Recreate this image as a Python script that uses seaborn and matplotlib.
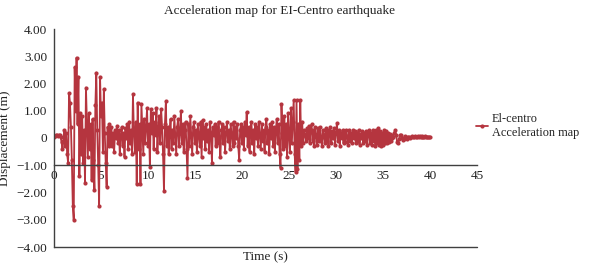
import numpy as np
import pandas as pd
import matplotlib
matplotlib.use("Agg")
import matplotlib.pyplot as plt
import seaborn as sns

# ---- data (acceleration record, 0.1 s sampling) ----
sample_step_s = 0.1
accel_00_05 = [0.05, 0.08, 0.10, 0.10, 0.08, 0.10, 0.12, 0.05, -0.15, -0.40,
               -0.10, 0.30, -0.30, 0.20, -0.60, -0.90, 1.65, 1.30, 0.40, -0.80,
               -2.50, -3.00, 2.60, 1.00, 2.95, 0.50, 2.25, -1.40, 0.90, -0.60,
               0.80, -0.90, 0.30, -1.65, 1.85, 0.60, -0.70, 0.90, -0.40, 0.50,
               -1.55, 0.70, -0.80, -1.90, 1.20, 2.40, 0.30, -1.00, -2.50, 2.25]
accel_05_10 = [0.80, 1.30, -0.50, 1.80, 0.20, -0.90, -1.80, 0.40, -0.30, 0.50,
               -0.20, 0.40, -0.30, 0.20, -0.50, 0.30, 0.00, 0.45, -0.20, 0.30,
               -0.60, 0.10, 0.40, -0.30, 0.20, -0.70, 0.35, 0.00, 0.50, -0.40,
               0.60, -0.20, 0.30, -0.60, 1.60, 0.20, -0.50, 0.60, -1.70, 1.30,
               -0.40, 0.50, -1.70, 1.25, 0.30, -0.60, 0.70, -0.20, 0.40, 1.10]
accel_10_15 = [-0.30, 0.50, -1.05, 1.05, 0.20, 0.90, -0.40, 0.60, 0.10, 1.10,
               -0.50, 0.30, 0.80, -0.20, 1.05, 0.40, -0.60, -1.95, 0.50, 1.35,
               -0.30, 0.40, -0.60, 0.20, 0.70, -0.40, 0.30, -0.20, 0.80, 0.10,
               -0.60, 0.40, 0.70, -0.30, 0.20, 1.00, -0.20, 0.50, -0.50, 0.30,
               0.60, -0.40, -1.45, 0.50, -0.30, 0.80, 0.10, -0.60, 0.40, 0.60]
accel_15_20 = [-0.20, 0.30, -0.50, 0.50, 0.10, -0.30, 0.60, -0.70, 0.65, 0.00,
               0.40, -0.40, 0.50, -0.10, 0.30, -0.50, 0.60, 0.20, -0.90, 0.40,
               0.10, 0.50, -0.30, 0.40, -0.20, 0.60, 0.00, -0.70, 0.30, 0.50,
               -0.20, 0.40, -0.50, 0.20, 0.60, -0.10, 0.30, -0.40, 0.50, 0.10,
               -0.30, 0.60, -0.20, 0.40, 0.00, 0.50, -0.30, -0.80, 0.30, 0.50]
accel_20_25 = [-0.20, 0.40, -0.40, 0.60, 0.10, 0.95, -0.30, 0.40, -0.50, 0.30,
               0.60, -0.20, 0.30, -0.60, 0.50, 0.00, 0.40, -0.30, 0.60, 0.10,
               -0.40, 0.50, -0.10, 0.30, -0.50, 0.40, 0.70, -0.20, 0.30, -0.60,
               0.50, 0.00, 0.60, -0.30, 0.40, -0.50, 0.30, 0.70, -0.20, 0.50,
               -0.60, -1.10, 1.25, 0.20, -0.40, 0.80, -0.30, 0.50, -0.70, 0.90]
accel_25_30 = [0.10, -0.50, 1.10, -0.20, 0.60, 1.40, -0.60, -1.25, 1.40, -1.15,
               0.50, -0.80, 1.40, -0.30, 0.60, -0.20, 0.30, 0.10, -0.10, 0.35,
               0.00, 0.45, -0.20, 0.30, 0.50, -0.10, 0.30, -0.30, 0.40, 0.10,
               -0.25, 0.35, -0.10, 0.40, 0.00, -0.30, 0.30, 0.10, -0.20, 0.35,
               -0.10, 0.30, -0.30, 0.20, 0.40, -0.20, 0.25, 0.00, 0.35, -0.25]
accel_30_35 = [0.20, 0.55, -0.10, 0.30, -0.30, 0.20, 0.00, 0.30, -0.20, 0.25,
               -0.15, 0.30, 0.05, -0.25, 0.30, -0.10, 0.20, -0.20, 0.30, 0.00,
               0.25, -0.20, 0.20, -0.10, 0.30, -0.25, 0.15, 0.00, 0.25, -0.20,
               0.20, -0.10, 0.25, -0.25, 0.15, 0.30, -0.20, 0.20, -0.25, 0.30,
               -0.10, 0.25, -0.30, 0.30, -0.20, 0.35, -0.25, 0.25, -0.30, 0.20]
accel_35_40 = [-0.25, 0.30, -0.20, 0.25, -0.20, 0.20, -0.15, 0.15, -0.10, 0.10,
               0.00, 0.05, 0.20, 0.30, 0.10, -0.15, -0.20, -0.05, 0.10, 0.12,
               0.00, -0.08, -0.02, 0.06, 0.04, -0.02, 0.00, 0.05, 0.02, 0.00,
               0.04, 0.06, 0.03, 0.05, 0.07, 0.04, 0.05, 0.08, 0.05, 0.06,
               0.04, 0.06, 0.05, 0.03, 0.05, 0.06, 0.04, 0.05, 0.03, 0.04, 0.03]

x_ticks = [0, 5, 10, 15, 20, 25, 30, 35, 40, 45]
y_ticks = [-4, -3, -2, -1, 0, 1, 2, 3, 4]
y_tick_labels = ["\u22124.00", "\u22123.00", "\u22122.00", "\u22121.00", "0",
                 "1.00", "2.00", "3.00", "4.00"]

title_text = "Acceleration map for EI-Centro earthquake"
x_label = "Time (s)"
y_label = "Displacement (m)"
series_label = "El-centro\nAcceleration map"

accel = (accel_00_05 + accel_05_10 + accel_10_15 + accel_15_20 +
         accel_20_25 + accel_25_30 + accel_30_35 + accel_35_40)
time_s = np.round(np.arange(len(accel)) * sample_step_s, 2)
df = pd.DataFrame({"time": time_s, "accel": accel})

# ---- style ----
sns.set_theme(style="white")
plt.rcParams["font.family"] = ["Liberation Serif", "DejaVu Serif"]
plt.rcParams["axes.unicode_minus"] = True

W, H = 589, 267
fig = plt.figure(figsize=(W / 100, H / 100), dpi=100)
ax = fig.add_axes([54 / W, 1 - 247 / H, (477 - 54) / W, (247 - 29) / H])

line_color = "#b5353f"
axis_color = "#404040"

sns.lineplot(data=df, x="time", y="accel", ax=ax, estimator=None, sort=False,
             color=line_color, linewidth=1.3, marker="o", markersize=3.0,
             markeredgewidth=0, label=series_label)

ax.set_xlim(0, 45)
ax.set_ylim(-4, 4)
ax.set_xticks(x_ticks)
ax.set_xticklabels([str(v) for v in x_ticks])
ax.set_yticks(y_ticks)
ax.set_yticklabels(y_tick_labels)

for s in ["top", "right"]:
    ax.spines[s].set_visible(False)
ax.spines["bottom"].set_position(("data", -1))
for s in ["left", "bottom"]:
    ax.spines[s].set_color(axis_color)
    ax.spines[s].set_linewidth(1.0)
ax.axhline(-4, color=axis_color, linewidth=1.0, clip_on=False, zorder=3)

ax.tick_params(axis="x", direction="inout", length=5, width=0.8, colors=axis_color,
               labelsize=9.5, labelcolor="#222222", pad=1)
ax.tick_params(axis="y", direction="out", length=3, width=0.8, colors=axis_color,
               labelsize=9.5, labelcolor="#222222", pad=2)
ax.grid(False)

ax.set_xlabel("")
ax.set_ylabel(y_label, fontsize=9.5, color="#222222", labelpad=4)
fig.text(265 / W, 1 - 257 / H, x_label, ha="center", va="center",
         fontsize=9.5, color="#222222")
fig.text(279 / W, 1 - 11 / H, title_text, ha="center", va="center",
         fontsize=9.5, color="#222222")

leg = ax.legend(loc="center left", bbox_to_anchor=(476 / W, 1 - 126 / H),
                bbox_transform=fig.transFigure, frameon=False, fontsize=8.8,
                handlelength=1.0, handletextpad=0.3, borderaxespad=0,
                borderpad=0, labelspacing=0.2)
for t in leg.get_texts():
    t.set_color("#222222")

fig.savefig("out.png", dpi=100)
